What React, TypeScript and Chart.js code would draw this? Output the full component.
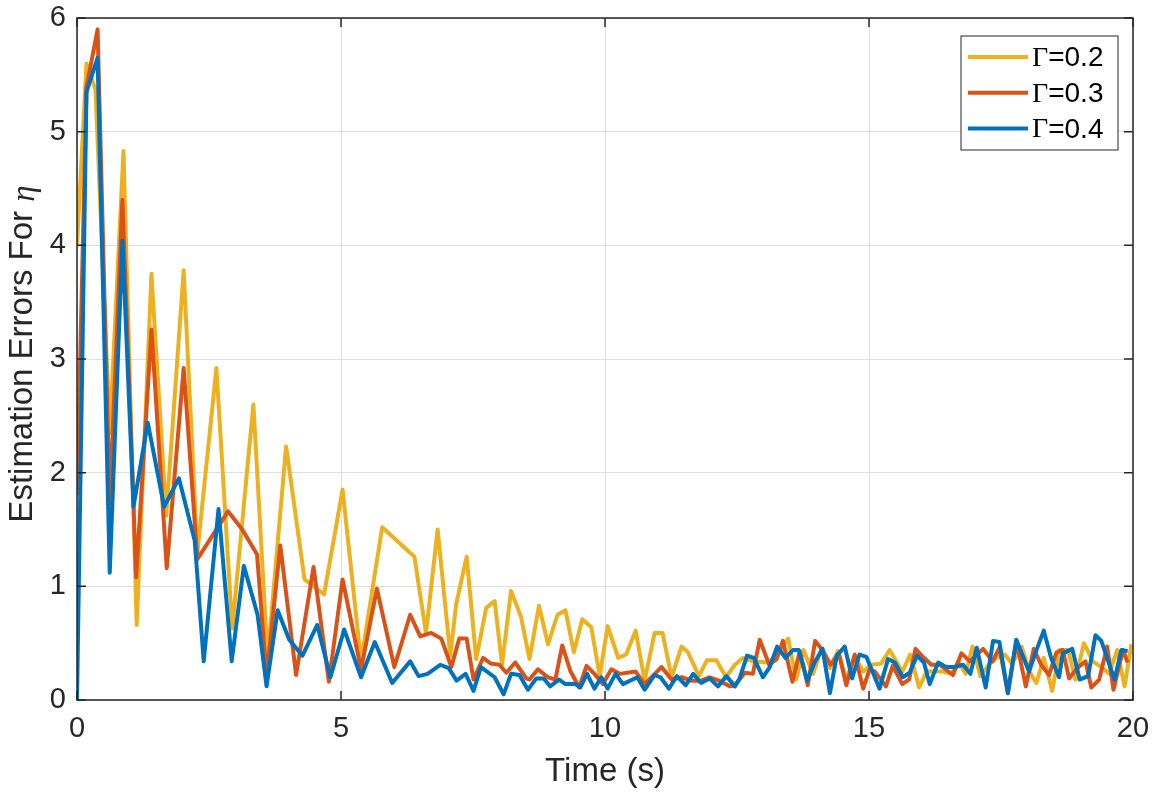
import { useEffect, useRef } from 'react';
import { Chart, registerables } from 'chart.js';

Chart.register(...registerables);

// Γ=0.2
const g02Time = [
  0, 0.18, 0.35, 0.62, 0.88, 1.13, 1.41, 1.69, 2.02, 2.28, 2.64, 2.94, 3.34, 3.61, 3.96, 4.31, 4.68,
  5.03, 5.38, 5.78, 6.39, 6.61, 6.83, 7.07, 7.18, 7.38, 7.56, 7.75, 7.91, 8.05, 8.22, 8.41, 8.57,
  8.75, 8.92, 9.1, 9.25, 9.41, 9.57, 9.74, 9.9, 10.05, 10.25, 10.4, 10.58, 10.75, 10.94, 11.09,
  11.26, 11.45, 11.57, 11.78, 11.93, 12.11, 12.29, 12.46, 12.61, 12.8, 13.09, 13.25, 13.47, 13.62,
  13.76, 13.94, 14.1, 14.26, 14.41, 14.57, 14.73, 14.89, 15.04, 15.23, 15.39, 15.63, 15.78, 15.95,
  16.09, 16.24, 16.4, 16.56, 16.69, 16.83, 16.96, 17.11, 17.27, 17.41, 17.57, 17.71, 17.89, 18.04,
  18.17, 18.31, 18.47, 18.61, 18.77, 18.91, 19.07, 19.24, 19.4, 19.55, 19.7, 19.84, 19.97,
];
const g02Err = [
  4.0, 5.6, 5.37, 2.35, 4.83, 0.66, 3.75, 1.62, 3.78, 1.3, 2.92, 0.63, 2.6, 0.37, 2.23, 1.06, 0.93,
  1.85, 0.34, 1.52, 1.26, 0.59, 1.5, 0.39, 0.84, 1.26, 0.36, 0.81, 0.87, 0.31, 0.96, 0.73, 0.36,
  0.83, 0.49, 0.75, 0.79, 0.42, 0.71, 0.64, 0.21, 0.65, 0.37, 0.4, 0.61, 0.17, 0.59, 0.59,
  0.2, 0.47, 0.42, 0.21, 0.35, 0.35, 0.2, 0.31, 0.37, 0.34, 0.33, 0.39, 0.54, 0.18,
  0.44, 0.23, 0.45, 0.28, 0.43, 0.18, 0.39, 0.25, 0.31, 0.32, 0.44, 0.25, 0.4, 0.11,
  0.25, 0.25, 0.25, 0.23, 0.34, 0.23, 0.47, 0.21, 0.31, 0.37, 0.4, 0.32, 0.47, 0.25,
  0.15, 0.37, 0.08, 0.44, 0.44, 0.18, 0.5, 0.34, 0.29, 0.23, 0.44, 0.12, 0.49,
];

// Γ=0.3
const g03Time = [
  0, 0.18, 0.39, 0.62, 0.86, 1.12, 1.41, 1.7, 2.02, 2.28, 2.86, 3.13, 3.41, 3.59, 3.85, 4.15, 4.48,
  4.77, 5.03, 5.38, 5.68, 6.01, 6.31, 6.5, 6.71, 6.9, 7.09, 7.24, 7.38, 7.51, 7.69, 7.84, 8.0, 8.13,
  8.3, 8.51, 8.57, 8.73, 8.92, 9.06, 9.19, 9.34, 9.51, 9.65, 9.8, 9.96, 10.12, 10.28, 10.58, 10.75,
  11.07, 11.26, 11.45, 11.64, 11.82, 11.98, 12.16, 12.37, 12.46, 12.65, 12.8, 12.93, 13.11, 13.25,
  13.37, 13.55, 13.69, 13.84, 13.98, 14.12, 14.27, 14.43, 14.57, 14.73, 14.89, 15.01, 15.11, 15.32,
  15.45, 15.63, 15.76, 15.88, 16.02, 16.18, 16.34, 16.59, 16.75, 16.91, 17.16, 17.34, 17.47, 17.63,
  17.79, 17.97, 18.12, 18.26, 18.41, 18.55, 18.67, 18.79, 18.94, 19.1, 19.21, 19.36, 19.51, 19.63,
  19.81, 19.9,
];
const g03Err = [
  1.8, 5.39, 5.9, 1.73, 4.4, 1.08, 3.26, 1.16, 2.92, 1.24, 1.66, 1.5, 1.28, 0.2, 1.36, 0.22, 1.17,
  0.16, 1.06, 0.27, 0.98, 0.29, 0.75, 0.56, 0.59, 0.54, 0.29, 0.54, 0.54, 0.18, 0.37, 0.32, 0.31, 0.24,
  0.33, 0.19, 0.18, 0.27, 0.2, 0.18, 0.48, 0.26, 0.11, 0.3, 0.23, 0.14, 0.27, 0.23, 0.25, 0.14,
  0.29, 0.18, 0.2, 0.17, 0.17, 0.2, 0.17, 0.12, 0.13, 0.24, 0.23, 0.53, 0.31, 0.36,
  0.52, 0.16, 0.43, 0.13, 0.52, 0.44, 0.31, 0.41, 0.13, 0.4, 0.1, 0.27, 0.25, 0.12,
  0.3, 0.14, 0.18, 0.45, 0.38, 0.31, 0.31, 0.22, 0.41, 0.34, 0.45, 0.34, 0.46, 0.06,
  0.52, 0.12, 0.45, 0.31, 0.22, 0.42, 0.44, 0.19, 0.28, 0.34, 0.11, 0.18, 0.47, 0.09,
  0.44, 0.33,
];

// Γ=0.4
const g04Time = [
  0, 0.18, 0.39, 0.62, 0.86, 1.07, 1.34, 1.65, 1.93, 2.23, 2.4, 2.68, 2.93, 3.16, 3.42, 3.59, 3.8,
  4.02, 4.27, 4.55, 4.8, 5.06, 5.38, 5.64, 5.97, 6.31, 6.47, 6.64, 6.88, 7.04, 7.19, 7.36, 7.51,
  7.65, 7.91, 8.08, 8.22, 8.38, 8.54, 8.7, 8.84, 8.96, 9.13, 9.25, 9.44, 9.53, 9.66, 9.8, 9.93,
  10.05, 10.2, 10.34, 10.61, 10.75, 10.94, 11.05, 11.21, 11.36, 11.53, 11.67, 11.82, 11.98, 12.14,
  12.3, 12.46, 12.55, 12.69, 12.82, 12.99, 13.12, 13.26, 13.42, 13.56, 13.67, 13.83, 13.97, 14.12,
  14.26, 14.39, 14.54, 14.68, 14.82, 14.95, 15.2, 15.36, 15.49, 15.64, 15.77, 15.91, 16.04, 16.15,
  16.31, 16.46, 16.62, 16.78, 16.92, 17.04, 17.21, 17.35, 17.47, 17.63, 17.79, 18.03, 18.18, 18.31,
  18.45, 18.6, 18.67, 18.85, 18.99, 19.15, 19.29, 19.4, 19.65, 19.78, 19.9,
];
const g04Err = [
  0, 5.35, 5.65, 1.12, 4.04, 1.7, 2.44, 1.7, 1.95, 1.4, 0.34, 1.68, 0.34, 1.18, 0.75, 0.12, 0.79,
  0.53, 0.39, 0.66, 0.2, 0.62, 0.2, 0.51, 0.15, 0.34, 0.21, 0.23, 0.31, 0.28, 0.17, 0.23, 0.08,
  0.29, 0.2, 0.05, 0.23, 0.22, 0.09, 0.19, 0.19, 0.12, 0.18, 0.14, 0.14, 0.11, 0.23, 0.1, 0.2,
  0.1, 0.23, 0.14, 0.2, 0.09, 0.22, 0.2, 0.1, 0.21, 0.13, 0.23, 0.15, 0.19, 0.12,
  0.21, 0.12, 0.19, 0.39, 0.37, 0.2, 0.29, 0.47, 0.37, 0.44, 0.44, 0.17, 0.33, 0.45,
  0.06, 0.39, 0.47, 0.19, 0.4, 0.38, 0.1, 0.36, 0.33, 0.2, 0.24, 0.39, 0.33, 0.14,
  0.33, 0.29, 0.29, 0.31, 0.23, 0.46, 0.11, 0.52, 0.51, 0.06, 0.53, 0.25, 0.45, 0.61,
  0.37, 0.2, 0.41, 0.45, 0.18, 0.21, 0.57, 0.52, 0.18, 0.44, 0.43,
];

const seriesLabels = ['0.2', '0.3', '0.4'];
const seriesColors = ['#EDB120', '#D95319', '#0072BD'];
const xTicks = [0, 5, 10, 15, 20];
const yTicks = [0, 1, 2, 3, 4, 5, 6];

const SANS = '"Liberation Sans", Arial, sans-serif';
const SERIF = '"Liberation Serif", "Times New Roman", serif';
const INK = '#262626';

function toPoints(t: number[], v: number[]) {
  return t.map((x, i) => ({ x, y: v[i] }));
}

// box, inward ticks, legend and axis titles in the MATLAB look
const matlabFrame = {
  id: 'matlabFrame',
  afterDraw(chart: any) {
    const { ctx, chartArea: a, scales } = chart;
    const tick = 9;
    ctx.save();
    ctx.strokeStyle = INK;
    ctx.lineWidth = 1.5;
    ctx.strokeRect(a.left, a.top, a.right - a.left, a.bottom - a.top);
    ctx.beginPath();
    xTicks.forEach((v) => {
      const px = scales.x.getPixelForValue(v);
      ctx.moveTo(px, a.bottom);
      ctx.lineTo(px, a.bottom - tick);
      ctx.moveTo(px, a.top);
      ctx.lineTo(px, a.top + tick);
    });
    yTicks.forEach((v) => {
      const py = scales.y.getPixelForValue(v);
      ctx.moveTo(a.left, py);
      ctx.lineTo(a.left + tick, py);
      ctx.moveTo(a.right, py);
      ctx.lineTo(a.right - tick, py);
    });
    ctx.stroke();

    // legend
    const lx = a.right - 172;
    const ly = a.top + 18;
    ctx.fillStyle = '#ffffff';
    ctx.fillRect(lx, ly, 157, 114);
    ctx.lineWidth = 1;
    ctx.strokeRect(lx, ly, 157, 114);
    seriesLabels.forEach((lab, i) => {
      const y = ly + 21 + i * 35.8;
      ctx.strokeStyle = seriesColors[i];
      ctx.lineWidth = 4;
      ctx.beginPath();
      ctx.moveTo(lx + 7, y);
      ctx.lineTo(lx + 67, y);
      ctx.stroke();
      ctx.fillStyle = '#000000';
      ctx.textBaseline = 'middle';
      ctx.textAlign = 'left';
      ctx.font = `28px ${SERIF}`;
      ctx.fillText('Γ', lx + 71, y + 1.5);
      const gw = ctx.measureText('Γ').width;
      ctx.font = `28px ${SANS}`;
      ctx.fillText('=' + lab, lx + 71 + gw, y + 1.5);
    });

    // axis titles
    ctx.fillStyle = INK;
    ctx.font = `33px ${SANS}`;
    ctx.textAlign = 'center';
    ctx.textBaseline = 'middle';
    ctx.fillText('Time (s)', (a.left + a.right) / 2, 772);

    const main = 'Estimation Errors For ';
    ctx.font = `33px ${SANS}`;
    const mw = ctx.measureText(main).width;
    ctx.font = `italic 33px ${SERIF}`;
    const ew = ctx.measureText('η').width;
    ctx.translate(23, 354);
    ctx.rotate(-Math.PI / 2);
    ctx.textAlign = 'left';
    ctx.font = `33px ${SANS}`;
    ctx.fillText(main, -(mw + ew) / 2, 0);
    ctx.font = `italic 33px ${SERIF}`;
    ctx.fillText('η', -(mw + ew) / 2 + mw, 2);
    ctx.restore();
  },
};

export default function App() {
  const canvasRef = useRef<HTMLCanvasElement>(null);
  const chartRef = useRef<Chart | null>(null);

  useEffect(() => {
    if (!canvasRef.current) return;
    if (chartRef.current) chartRef.current.destroy();

    const series = [
      { t: g02Time, v: g02Err, order: 3 },
      { t: g03Time, v: g03Err, order: 2 },
      { t: g04Time, v: g04Err, order: 1 },
    ];

    chartRef.current = new Chart(canvasRef.current, {
      type: 'line',
      data: {
        datasets: series.map((s, i) => ({
          label: 'Γ=' + seriesLabels[i],
          data: toPoints(s.t, s.v),
          borderColor: seriesColors[i],
          backgroundColor: seriesColors[i],
          borderWidth: 4,
          pointRadius: 0,
          tension: 0,
          fill: false,
          order: s.order,
          borderJoinStyle: 'round' as const,
        })),
      },
      options: {
        animation: false,
        responsive: true,
        maintainAspectRatio: false,
        layout: { padding: { left: 0, right: 19, top: 18, bottom: 0 } },
        plugins: {
          legend: { display: false },
          tooltip: { enabled: false },
        },
        scales: {
          x: {
            type: 'linear',
            min: 0,
            max: 20,
            afterFit: (s: any) => {
              s.height = 92;
              s.paddingLeft = 0;
              s.paddingRight = 0;
            },
            afterBuildTicks: (s: any) => { s.ticks = xTicks.map((v) => ({ value: v })); },
            ticks: {
              autoSkip: false,
              maxRotation: 0,
              padding: 12,
              color: INK,
              font: { family: SANS, size: 29 },
            },
            grid: { color: '#dfdfdf', lineWidth: 1, drawTicks: false },
            border: { display: false },
          },
          y: {
            type: 'linear',
            min: 0,
            max: 6,
            afterFit: (s: any) => {
              s.width = 77;
              s.paddingTop = 0;
              s.paddingBottom = 0;
            },
            afterBuildTicks: (s: any) => { s.ticks = yTicks.map((v) => ({ value: v })); },
            ticks: {
              autoSkip: false,
              padding: 11,
              color: INK,
              font: { family: SANS, size: 29 },
            },
            grid: { color: '#dfdfdf', lineWidth: 1, drawTicks: false },
            border: { display: false },
          },
        },
      },
      plugins: [matlabFrame],
    });

    return () => {
      if (chartRef.current) {
        chartRef.current.destroy();
        chartRef.current = null;
      }
    };
  }, []);

  return (
    <div style={{ position: 'absolute', left: 0, top: 0, width: 1152, height: 792, background: '#ffffff' }}>
      <canvas ref={canvasRef} />
    </div>
  );
}
